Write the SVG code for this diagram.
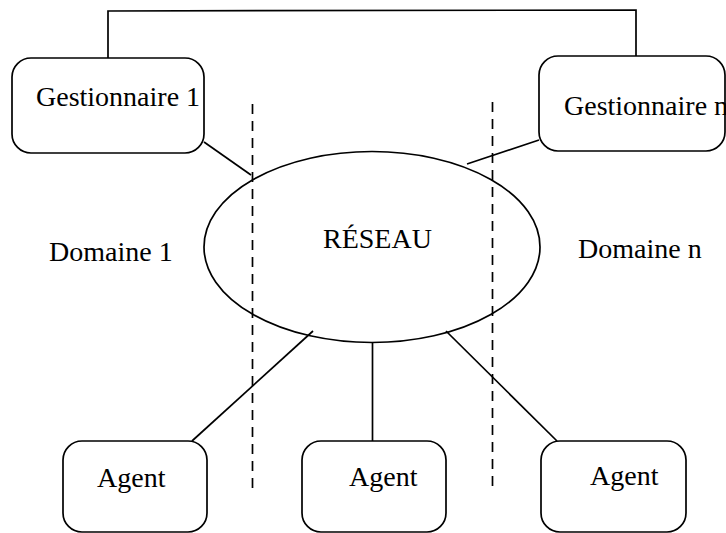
<svg xmlns="http://www.w3.org/2000/svg" width="726" height="533" viewBox="0 0 726 533">
  <style>
    .box { fill: #ffffff; stroke: #000000; stroke-width: 1.7; }
    .link { fill: none; stroke: #000000; stroke-width: 1.7; }
    .border { fill: none; stroke: #000000; stroke-width: 1.7; stroke-dasharray: 10 7; }
    .label { font-family: "Liberation Serif", "Times New Roman", serif; font-size: 28px; fill: #000000; }
  </style>
  <rect x="0" y="0" width="726" height="533" fill="#ffffff"/>

  <!-- domain borders -->
  <g id="borders">
    <line class="border" x1="252.5" y1="104" x2="252.5" y2="488"/>
    <line class="border" x1="492.5" y1="102" x2="492.5" y2="488"/>
  </g>

  <!-- connectors -->
  <g id="connectors">
    <polyline class="link" points="108,58 108,11 636,10 636,56"/>
    <line class="link" x1="204" y1="142" x2="251" y2="175"/>
    <line class="link" x1="539" y1="140" x2="467" y2="164"/>
    <line class="link" x1="313" y1="331" x2="192" y2="441"/>
    <line class="link" x1="372.5" y1="343" x2="372.5" y2="441"/>
    <line class="link" x1="446" y1="331" x2="557" y2="441"/>
  </g>

  <g id="reseau">
    <ellipse cx="372" cy="247" rx="168" ry="95.5" fill="none" stroke="#000" stroke-width="1.7"/>
    <text class="label" x="323" y="248">RÉSEAU</text>
  </g>

  <g id="gestionnaire-1">
    <rect class="box" x="12" y="58" width="192" height="95" rx="19"/>
    <text class="label" x="36" y="106">Gestionnaire 1</text>
  </g>

  <g id="gestionnaire-n">
    <rect class="box" x="539" y="56" width="186" height="95" rx="19"/>
    <text class="label" x="564" y="115">Gestionnaire n</text>
  </g>

  <g id="domaine-1">
    <text class="label" x="49" y="261">Domaine 1</text>
  </g>

  <g id="domaine-n">
    <text class="label" x="578" y="258">Domaine n</text>
  </g>

  <g id="agent-1">
    <rect class="box" x="63" y="441" width="144" height="91" rx="19"/>
    <text class="label" x="97" y="487">Agent</text>
  </g>

  <g id="agent-2">
    <rect class="box" x="302" y="441" width="144" height="91" rx="19"/>
    <text class="label" x="349" y="486">Agent</text>
  </g>

  <g id="agent-3">
    <rect class="box" x="541" y="441" width="145" height="91" rx="19"/>
    <text class="label" x="590" y="485">Agent</text>
  </g>
</svg>
